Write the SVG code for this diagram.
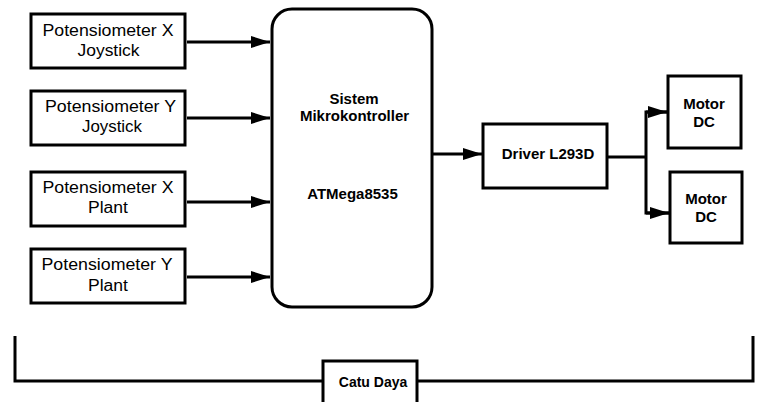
<svg xmlns="http://www.w3.org/2000/svg" width="758" height="402" viewBox="0 0 758 402">
<defs>
<style>
.box{fill:#fff;stroke:#000;stroke-width:3}
.ln{fill:none;stroke:#000;stroke-width:3}
.t{font-family:"Liberation Sans",Arial,sans-serif;font-size:16px;fill:#000;text-anchor:middle}
.b{font-family:"Liberation Sans",Arial,sans-serif;font-size:15px;font-weight:bold;fill:#000;text-anchor:middle}
</style>
<marker id="ah" markerUnits="userSpaceOnUse" markerWidth="19" markerHeight="12" refX="19" refY="6" orient="auto">
<path d="M0,0 L19,6 L0,12 z" fill="#000"/>
</marker>
</defs>
<rect width="758" height="402" fill="#fff"/>
<g id="connectors">
<line class="ln" x1="187" y1="42" x2="270" y2="42" marker-end="url(#ah)"/>
<line class="ln" x1="187" y1="118" x2="270" y2="118" marker-end="url(#ah)"/>
<line class="ln" x1="187" y1="202" x2="270" y2="202" marker-end="url(#ah)"/>
<line class="ln" x1="187" y1="277" x2="270" y2="277" marker-end="url(#ah)"/>
<line class="ln" x1="433" y1="154" x2="482" y2="154" marker-end="url(#ah)"/>
<polyline class="ln" points="608,157 646,157"/>
<polyline class="ln" points="668,112 646,112 646,213 669,213"/>
<line class="ln" x1="646" y1="112" x2="667" y2="112" marker-end="url(#ah)"/>
<line class="ln" x1="646" y1="213" x2="669" y2="213" marker-end="url(#ah)"/>
<polyline class="ln" points="15,336 15,381 323,381"/>
<polyline class="ln" points="417,381 753,381 753,336"/>
</g>
<g id="potX-joy">
<rect class="box" x="31" y="14" width="154" height="54"/>
<text class="t" x="108" y="36" textLength="131" lengthAdjust="spacingAndGlyphs">Potensiometer X</text>
<text class="t" x="108.5" y="56" textLength="62" lengthAdjust="spacingAndGlyphs">Joystick</text>
</g>
<g id="potY-joy">
<rect class="box" x="31" y="91" width="154" height="54"/>
<text class="t" x="110.5" y="112" textLength="131" lengthAdjust="spacingAndGlyphs">Potensiometer Y</text>
<text class="t" x="112" y="132" textLength="60" lengthAdjust="spacingAndGlyphs">Joystick</text>
</g>
<g id="potX-plant">
<rect class="box" x="31" y="172" width="154" height="54"/>
<text class="t" x="108" y="193" textLength="131" lengthAdjust="spacingAndGlyphs">Potensiometer X</text>
<text class="t" x="108" y="213" textLength="40" lengthAdjust="spacingAndGlyphs">Plant</text>
</g>
<g id="potY-plant">
<rect class="box" x="31" y="249" width="154" height="54"/>
<text class="t" x="107" y="270" textLength="131" lengthAdjust="spacingAndGlyphs">Potensiometer Y</text>
<text class="t" x="108" y="291" textLength="40" lengthAdjust="spacingAndGlyphs">Plant</text>
</g>
<g id="mcu">
<rect class="box" x="272" y="9" width="160" height="298" rx="20" ry="20"/>
<text class="b" x="354" y="104">Sistem</text>
<text class="b" x="354.5" y="121">Mikrokontroller</text>
<text class="b" x="352.5" y="199">ATMega8535</text>
</g>
<g id="driver">
<rect class="box" x="483" y="124" width="124" height="64"/>
<text class="b" x="548" y="159">Driver L293D</text>
</g>
<g id="motor1">
<rect class="box" x="668" y="76" width="73" height="72"/>
<text class="b" x="704" y="109">Motor</text>
<text class="b" x="704" y="127">DC</text>
</g>
<g id="motor2">
<rect class="box" x="670" y="172" width="72" height="71"/>
<text class="b" x="706" y="204">Motor</text>
<text class="b" x="706" y="222">DC</text>
</g>
<g id="psu">
<rect class="box" x="323" y="361" width="94" height="50"/>
<text class="b" x="373" y="387" style="font-size:14px">Catu Daya</text>
</g>
</svg>
